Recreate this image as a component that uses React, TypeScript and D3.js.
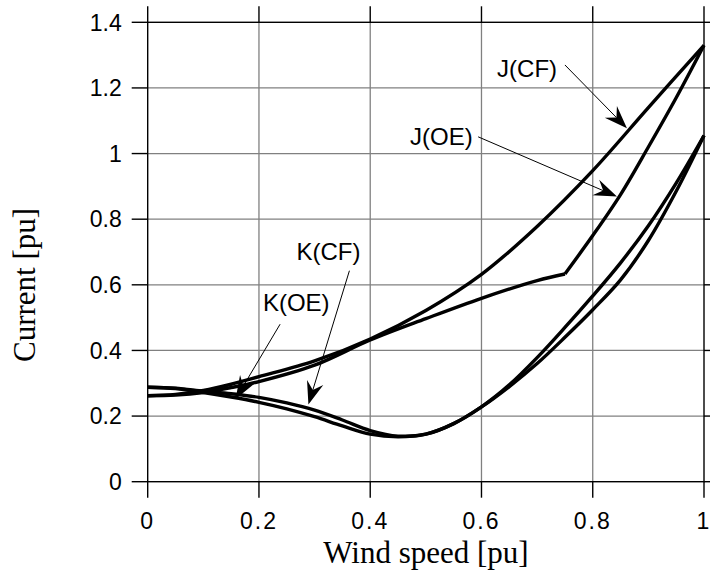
import React from "react";
import * as d3 from "d3";

// Wind speed samples [pu] and currents [pu] for each characteristic
const jCFx = [0, 0.05, 0.1, 0.15, 0.2, 0.3, 0.4, 0.5, 0.6, 0.7, 0.8, 0.9, 1.0];
const jCFy = [0.262, 0.266, 0.278, 0.297, 0.32, 0.368, 0.435, 0.522, 0.632, 0.778, 0.948, 1.14, 1.33];

const jOEx = [0, 0.05, 0.1, 0.15, 0.2, 0.3, 0.4, 0.5, 0.6, 0.7, 0.75, 0.8, 0.85, 0.9, 0.95, 1.0];
const jOEy = [0.262, 0.264, 0.272, 0.287, 0.305, 0.355, 0.432, 0.497, 0.559, 0.613, 0.633, 0.75, 0.875, 1.02, 1.17, 1.33];
const jOEkink = 0.75;

const kX = [0, 0.05, 0.1, 0.15, 0.2, 0.25, 0.3, 0.35, 0.4, 0.45, 0.5, 0.55, 0.6, 0.65, 0.7, 0.75, 0.8, 0.85, 0.9, 0.95, 1.0];
const kCFy = [0.288, 0.285, 0.276, 0.268, 0.257, 0.24, 0.218, 0.188, 0.156, 0.139, 0.145, 0.177, 0.228, 0.295, 0.378, 0.47, 0.566, 0.667, 0.78, 0.91, 1.055];
const kOEy = [0.288, 0.284, 0.272, 0.258, 0.242, 0.222, 0.198, 0.17, 0.145, 0.137, 0.145, 0.177, 0.228, 0.29, 0.36, 0.44, 0.524, 0.615, 0.735, 0.885, 1.055];

const xTicks = [0, 0.2, 0.4, 0.6, 0.8, 1];
const yTicks = [0, 0.2, 0.4, 0.6, 0.8, 1, 1.2, 1.4];

// Callouts: label anchor, leader start and arrow tip, in data units
const calloutLabels = ["J(CF)", "J(OE)", "K(CF)", "K(OE)"];
const calloutText = [[0.682, 1.234], [0.528, 1.027], [0.325, 0.676], [0.267, 0.52]];
const calloutFrom = [[0.75, 1.27], [0.594, 1.051], [0.3626, 0.643], [0.238, 0.48]];
const calloutTip = [[0.8615, 1.077], [0.8435, 0.869], [0.2889, 0.2354], [0.158, 0.252]];

const W = 710;
const H = 573;
const SANS = "'Liberation Sans', Arial, Helvetica, sans-serif";
const SERIF = "'Liberation Serif', 'Times New Roman', serif";

type Pt = [number, number];

export default function App() {
  const x = d3.scaleLinear().domain([0, 1]).range([147.7, 704]);
  const y = d3.scaleLinear().domain([0, 1.4]).range([481.7, 22.3]);
  const tickLen = 16;

  const line = d3
    .line<Pt>()
    .x((d) => x(d[0]))
    .y((d) => y(d[1]))
    .curve(d3.curveCatmullRom.alpha(0.5));

  const zip = (xs: number[], ys: number[]): Pt[] => xs.map((v, i) => [v, ys[i]] as Pt);

  const jOE = zip(jOEx, jOEy);
  const kinkIdx = jOEx.indexOf(jOEkink);
  const paths: string[] = [
    line(zip(jCFx, jCFy)) as string,
    line(jOE.slice(0, kinkIdx + 1)) as string,
    line(jOE.slice(kinkIdx)) as string,
    line(zip(kX, kCFy)) as string,
    line(zip(kX, kOEy)) as string,
  ];

  const [x0, x1] = x.range();
  const [y0, y1] = y.range();

  const arrowHead = (from: Pt, tip: Pt) => {
    const fx = x(from[0]);
    const fy = y(from[1]);
    const tx = x(tip[0]);
    const ty = y(tip[1]);
    const ang = Math.atan2(ty - fy, tx - fx);
    const L = 23;
    const Wd = 17;
    const notch = 15;
    const pts: Pt[] = [
      [0, 0],
      [-L, -Wd / 2],
      [-notch, 0],
      [-L, Wd / 2],
    ];
    const c = Math.cos(ang);
    const s = Math.sin(ang);
    const poly = pts.map(([px, py]) => [tx + px * c - py * s, ty + px * s + py * c]);
    const nx = tx - notch * c;
    const ny = ty - notch * s;
    return { poly, fx, fy, nx, ny };
  };

  return (
    <svg
      width={W}
      height={H}
      viewBox={`0 0 ${W} ${H}`}
      style={{ position: "absolute", left: 0, top: 0, background: "#fff" }}
    >
      <rect x={0} y={0} width={W} height={H} fill="#fff" />

      {/* grid */}
      <g stroke="#808080" strokeWidth={1.3}>
        {xTicks
          .filter((t) => t > 0 && t < 1)
          .map((t) => (
            <line key={"gx" + t} x1={x(t)} x2={x(t)} y1={y0} y2={y1} />
          ))}
        {yTicks
          .filter((t) => t > 0 && t < 1.4)
          .map((t) => (
            <line key={"gy" + t} x1={x0} x2={x1} y1={y(t)} y2={y(t)} />
          ))}
      </g>

      {/* frame and outward ticks */}
      <g stroke="#000" strokeWidth={1.4}>
        <rect x={x0} y={y1} width={x1 - x0} height={y0 - y1} fill="none" />
        {xTicks.map((t) => (
          <g key={"tx" + t}>
            <line x1={x(t)} x2={x(t)} y1={y0} y2={y0 + tickLen} />
            <line x1={x(t)} x2={x(t)} y1={y1} y2={y1 - tickLen} />
          </g>
        ))}
        {yTicks.map((t) => (
          <g key={"ty" + t}>
            <line x1={x0 - tickLen} x2={x0} y1={y(t)} y2={y(t)} />
            <line x1={x1} x2={x1 + tickLen} y1={y(t)} y2={y(t)} />
          </g>
        ))}
      </g>

      {/* tick labels */}
      <g fontFamily={SANS} fontSize={23} fill="#000">
        {yTicks.map((t) => (
          <text key={"ly" + t} x={x0 - 26} y={y(t)} dy="0.36em" textAnchor="end">
            {d3.format("~g")(t)}
          </text>
        ))}
        {xTicks.map((t) => (
          <text key={"lx" + t} x={x(t)} y={529} textAnchor="middle" letterSpacing={2}>
            {d3.format("~g")(t)}
          </text>
        ))}
      </g>

      {/* axis titles */}
      <text x={426} y={563} fontFamily={SERIF} fontSize={31} textAnchor="middle" fill="#000">
        Wind speed [pu]
      </text>
      <text
        transform={`translate(35, 285) rotate(-90)`}
        fontFamily={SERIF}
        fontSize={31}
        textAnchor="middle"
        fill="#000"
      >
        Current [pu]
      </text>

      {/* curves */}
      <g fill="none" stroke="#000" strokeWidth={3.4} strokeLinejoin="miter">
        {paths.map((d, i) => (
          <path key={"c" + i} d={d} />
        ))}
      </g>

      {/* callouts */}
      {calloutLabels.map((lab, i) => {
        const a = arrowHead(calloutFrom[i] as Pt, calloutTip[i] as Pt);
        return (
          <g key={lab}>
            <line x1={a.fx} y1={a.fy} x2={a.nx} y2={a.ny} stroke="#000" strokeWidth={1} />
            <polygon points={a.poly.map((p) => p.join(",")).join(" ")} fill="#000" />
            <text
              x={x(calloutText[i][0])}
              y={y(calloutText[i][1])}
              fontFamily={SANS}
              fontSize={24}
              textAnchor="middle"
              fill="#000"
            >
              {lab}
            </text>
          </g>
        );
      })}
    </svg>
  );
}
